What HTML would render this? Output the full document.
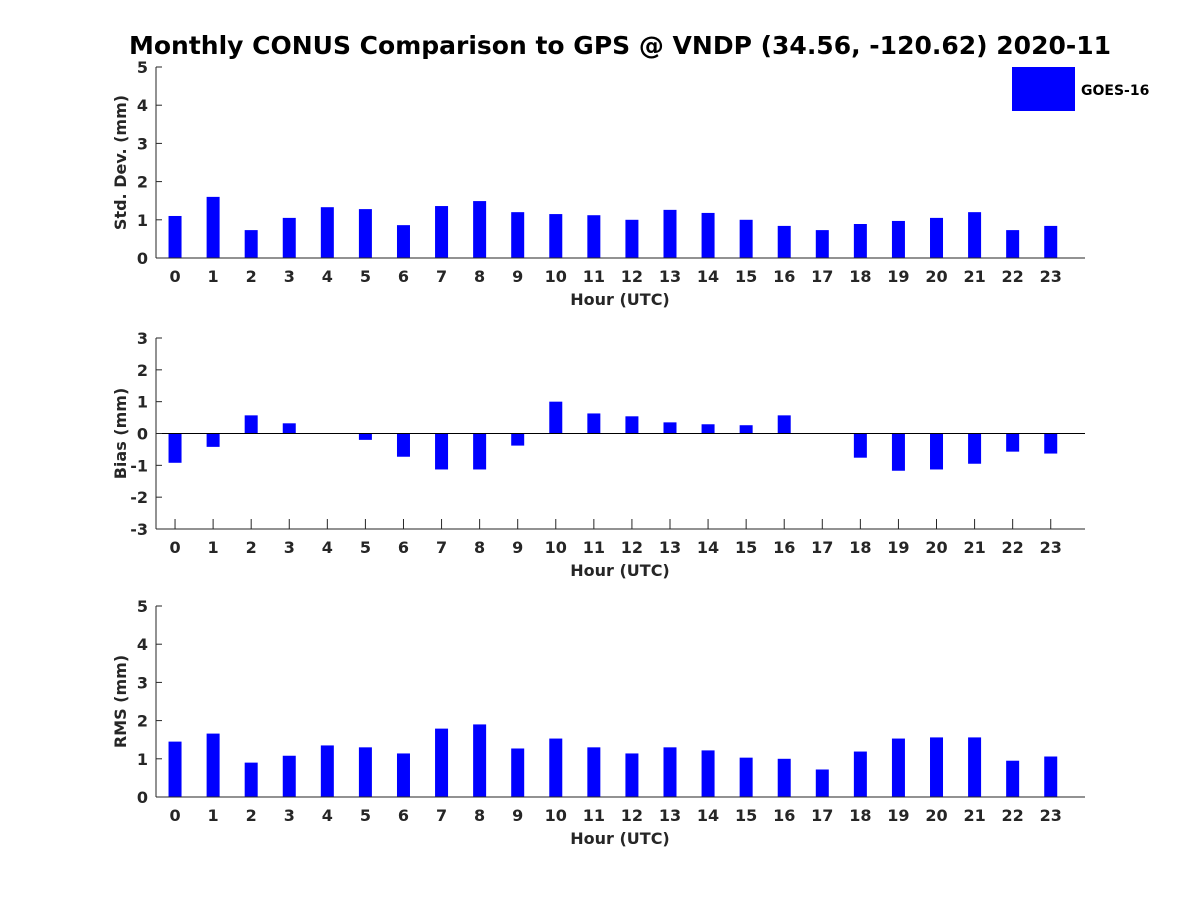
<!DOCTYPE html>
<html><head><meta charset="utf-8"><style>
body{margin:0;background:#fff}
svg text{font-family:"DejaVu Sans","Liberation Sans",sans-serif;font-weight:bold;fill:#262626}
</style></head><body>
<svg id="chart" width="1200" height="900" xmlns="http://www.w3.org/2000/svg">
<rect width="1200" height="900" fill="#fff"/>
<text x="620" y="54" text-anchor="middle" font-size="25" style="fill:#000">Monthly CONUS Comparison to GPS @ VNDP (34.56, -120.62) 2020-11</text>
<rect x="1012" y="67" width="63" height="44" fill="#0000ff"/>
<text x="1081" y="95" font-size="14" style="fill:#000">GOES-16</text>
</svg>
<script>
const hours=[0,1,2,3,4,5,6,7,8,9,10,11,12,13,14,15,16,17,18,19,20,21,22,23];
const stdVals=[1.1,1.6,0.73,1.05,1.33,1.28,0.86,1.36,1.49,1.2,1.15,1.12,1.0,1.26,1.18,1.0,0.84,0.73,0.89,0.97,1.05,1.2,0.73,0.84];
const biasVals=[-0.92,-0.42,0.57,0.32,0,-0.2,-0.73,-1.13,-1.13,-0.38,1.0,0.63,0.54,0.35,0.29,0.26,0.57,0,-0.76,-1.17,-1.13,-0.95,-0.57,-0.63];
const rmsVals=[1.45,1.66,0.9,1.08,1.35,1.3,1.14,1.79,1.9,1.27,1.53,1.3,1.14,1.3,1.22,1.03,1.0,0.72,1.19,1.53,1.56,1.56,0.95,1.06];
const stdTicks=[0,1,2,3,4,5];
const biasTicks=[-3,-2,-1,0,1,2,3];
const rmsTicks=[0,1,2,3,4,5];
const NS='http://www.w3.org/2000/svg';
const svg=document.getElementById('chart');
function mk(tag,attrs,parent){const e=document.createElementNS(NS,tag);for(const k in attrs)e.setAttribute(k,attrs[k]);(parent||svg).appendChild(e);return e;}
function panel(key,vals,ticks,ymin,ymax,top,bottom,ylabel,showXTicks){
  const g=mk('g',{});
  
  
  const L=156,R=1085;
  const xs=h=>L+(h+0.5)*(R-L)/24.4;
  const ys=v=>bottom-(v-ymin)*(bottom-top)/(ymax-ymin);
  vals.forEach((v,i)=>{
    const y0=ys(0),y1=ys(v);
    const r=mk('rect',{x:xs(hours[i])-6.5,y:Math.min(y0,y1),width:13,height:Math.abs(y1-y0),fill:'#0000ff'},g);
    
    
  });
  if(ymin<0){mk('line',{x1:L,x2:R,y1:ys(0),y2:ys(0),stroke:'#000','stroke-width':1},g);}
  mk('line',{x1:L,x2:L,y1:top,y2:bottom,stroke:'#262626','stroke-width':1},g);
  mk('line',{x1:L,x2:R,y1:bottom,y2:bottom,stroke:'#262626','stroke-width':1},g);
  ticks.forEach(t=>{
    const y=ys(t);
    mk('line',{x1:L,x2:L+6,y1:y,y2:y,stroke:'#262626'},g);
    const tx=mk('text',{x:L-8,y:y+6,'text-anchor':'end','font-size':16},g);
    tx.textContent=t;
    
    
  });
  hours.forEach(h=>{
    if(showXTicks)mk('line',{x1:xs(h),x2:xs(h),y1:bottom,y2:bottom-10,stroke:'#262626'},g);
    const tx=mk('text',{x:xs(h),y:bottom+24,'text-anchor':'middle','font-size':16},g);
    tx.textContent=h;
    
    
  });
  const xl=mk('text',{x:620,y:bottom+47,'text-anchor':'middle','font-size':16},g);
  xl.textContent='Hour (UTC)';
  
  
  const cy=(top+bottom)/2;
  const yl=mk('text',{x:126,y:cy,'text-anchor':'middle','font-size':16,transform:'rotate(-90 126 '+cy+')'},g);
  yl.textContent=ylabel;
  
  
}
panel('std',stdVals,stdTicks,0,5,67,258,'Std. Dev. (mm)',false);
panel('bias',biasVals,biasTicks,-3,3,338,529,'Bias (mm)',true);
panel('rms',rmsVals,rmsTicks,0,5,606,797,'RMS (mm)',false);
</script>
</body></html>
